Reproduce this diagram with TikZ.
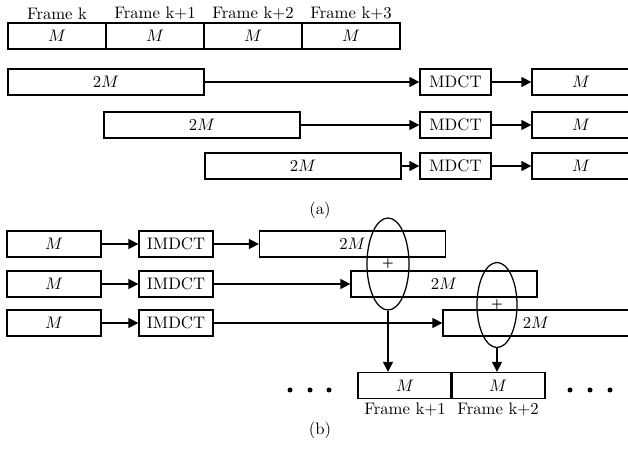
\documentclass[tikz,border=0pt]{standalone}
\usepackage{tikz}
\usetikzlibrary{arrows.meta,positioning,shapes.geometric}

\begin{document}
\begin{tikzpicture}[
  x=0.6pt, y=-0.6pt, line width=0.75pt,
  >={Triangle[length=6pt,width=6pt]},
  blk/.style={draw, inner sep=0pt, minimum height=15.6pt},
  fr/.style={blk, minimum width=58.8pt},
  wide/.style={blk, minimum width=117.6pt},
  half/.style={blk, minimum width=56.4pt},
  tr/.style={blk, minimum width=42.6pt},
  itr/.style={blk, minimum width=44.4pt},
  owide/.style={blk, minimum width=111.6pt},
  flbl/.style={inner sep=1.2pt},
  sum/.style={draw, ellipse, inner sep=0pt, font=\scriptsize\bfseries},
  dot/.style={circle, fill, inner sep=0pt, minimum size=3pt}]
\clip (0,0) rectangle (628,456);
% ---------------- (a) 2M windows -> MDCT -> M coefficients ----------------
\foreach \i/\x/\t in {1/57/k, 2/155/k+1, 3/253/k+2, 4/351/k+3} {
  \node[fr] (f\i) at (\x,36) {$M$};
  \node[flbl, above=0pt of f\i] (fl\i) {Frame \t};
}
\node[wide] (w1) at (106,82) {$2M$};
\node[wide] (w2) at (202,125) {$2M$};
\node[wide] (w3) at (303,166) {$2M$};
\foreach \i/\y in {1/82, 2/125, 3/166} {
  \node[tr] (t\i) at (455.5,\y) {MDCT};
  \node[fr] (c\i) at (581,\y) {$M$};
  \draw[->] (w\i.east) -- (t\i.west);
  \draw[->] (t\i.east) -- (c\i.west);
}
\node (capa) at (320,210) {(a)};
% ---------------- (b) M coefficients -> IMDCT -> overlap-add ----------------
\node[owide] (o1) at (352.5,244) {$2M$};
\node[owide] (o2) at (444,284) {$2M$};
\node[owide] (o3) at (536,323) {$2M$};
\foreach \i/\y in {1/244, 2/284, 3/323} {
  \node[half] (m\i) at (54,\y) {$M$};
  \node[itr] (i\i) at (176,\y) {IMDCT};
  \draw[->] (m\i.east) -- (i\i.west);
  \draw[->] (i\i.east) -- (o\i.west);
}
\node[sum, minimum width=25.2pt, minimum height=55.2pt] (s1) at (388,264) {+};
\node[sum, minimum width=24pt, minimum height=51pt] (s2) at (497,305) {+};
\node[half] (b1) at (405,385.5) {$M$};
\node[half] (b2) at (498,385.5) {$M$};
\node[flbl, below=1pt of b1] (bl1) {Frame k+1};
\node[flbl, below=1pt of b2] (bl2) {Frame k+2};
\draw[->] (s1.south) -- (s1.south |- b1.north);
\draw[->] (s2.south) -- (s2.south |- b2.north);
\foreach \x in {290,310,329} { \node[dot] (dl\x) at (\x,390) {}; }
\foreach \x in {570,590,610} { \node[dot] (dr\x) at (\x,390) {}; }
\node (capb) at (320,430) {(b)};
\end{tikzpicture}
\end{document}
